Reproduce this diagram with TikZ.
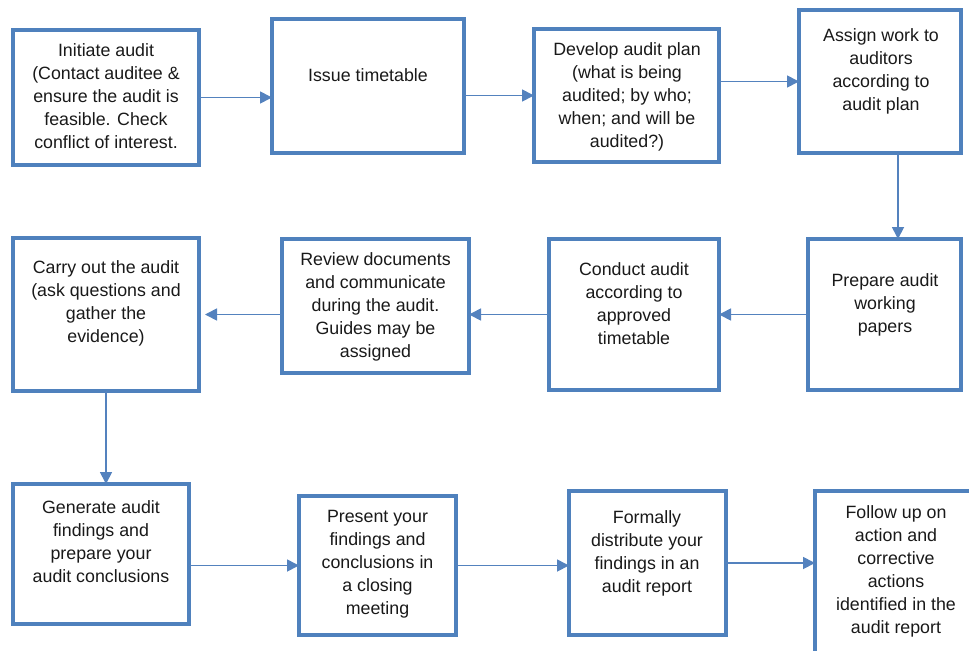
\documentclass[tikz,border=0pt]{standalone}
\usepackage{fontspec}
\setmainfont{Liberation Sans}
\usetikzlibrary{arrows.meta,fit}
\definecolor{boxblue}{RGB}{79,129,189}
\definecolor{arrowblue}{RGB}{84,130,190}
\tikzset{
  box/.style={draw=boxblue, line width=2.6pt, inner sep=0pt, outer sep=0pt},
  txt/.style={anchor=north, align=center, inner sep=0pt, text=black!90,
    font=\fontsize{13.35}{17.25}\selectfont},
  flow/.style={draw=arrowblue, line width=1.3pt, -{Triangle[length=9pt,width=9pt]}},
}
\begin{document}
\begin{tikzpicture}[x=0.75pt,y=-0.75pt]
  \clip (0,0) rectangle (969,650);
  % first row
  \node[box, fit={(13,30) (199,165)}] (initiate) {};
  \node[box, fit={(272,19) (464,153)}] (issue) {};
  \node[box, fit={(534,29) (719,162)}] (plan) {};
  \node[box, fit={(799,10) (961,153)}] (assign) {};
  \node[txt] (initiate-txt) at (106,43) {Initiate audit\\(Contact auditee \&\\ensure the audit is\\feasible. Check\\conflict of interest.};
  \node[txt] (issue-txt) at (368,68) {Issue timetable};
  \node[txt] (plan-txt) at (627,42) {Develop audit plan\\(what is being\\audited; by who;\\when; and will be\\audited?)};
  \node[txt] (assign-txt) at (881,28) {Assign work to\\auditors\\according to\\audit plan};
  % second row
  \node[box, fit={(13,238) (199,391)}] (carry) {};
  \node[box, fit={(282,239) (469,373)}] (review) {};
  \node[box, fit={(549,239) (719,390)}] (conduct) {};
  \node[box, fit={(808,239) (961,390)}] (prepare) {};
  \node[txt] (carry-txt) at (106,260) {Carry out the audit\\(ask questions and\\gather the\\evidence)};
  \node[txt] (review-txt) at (375.5,252) {Review documents\\and communicate\\during the audit.\\Guides may be\\assigned};
  \node[txt] (conduct-txt) at (634,262) {Conduct audit\\according to\\approved\\timetable};
  \node[txt] (prepare-txt) at (885,273) {Prepare audit\\working\\papers};
  % third row
  \node[box, fit={(13,484) (189,624)}] (generate) {};
  \node[box, fit={(299,496) (456,635)}] (present) {};
  \node[box, fit={(569,491) (726,635)}] (formally) {};
  \node[box, fit={(815,491) (990,680)}] (follow) {};
  \node[txt] (generate-txt) at (101,500) {Generate audit\\findings and\\prepare your\\audit conclusions};
  \node[txt] (present-txt) at (377.5,510) {Present your\\findings and\\conclusions in\\a closing\\meeting};
  \node[txt] (formally-txt) at (647,510) {Formally\\distribute your\\findings in an\\audit report};
  \node[txt] (follow-txt) at (896,505) {Follow up on\\action and\\corrective\\actions\\identified in the\\audit report};
  % connectors
  \draw[flow] (initiate.east) -- (initiate.east -| issue.west);
  \draw[flow] (plan.west -| issue.east) -- (plan.west);
  \draw[flow] (assign.west -| plan.east) -- (assign.west);
  \draw[flow] ([xshift=13.5pt]assign.south) -- ([xshift=13.5pt]assign.south |- prepare.north);
  \draw[flow] (prepare.west) -- (conduct.east);
  \draw[flow] (conduct.west) -- (conduct.west -| review.east);
  \draw[flow, shorten >=4.5pt] (carry.east -| review.west) -- (carry.east);
  \draw[flow] (carry.south) -- (carry.south |- generate.north);
  \draw[flow] (present.west -| generate.east) -- (present.west);
  \draw[flow] (present.east) -- (present.east -| formally.west);
  \draw[flow] (formally.east) -- (formally.east -| follow.west);
\end{tikzpicture}
\end{document}
